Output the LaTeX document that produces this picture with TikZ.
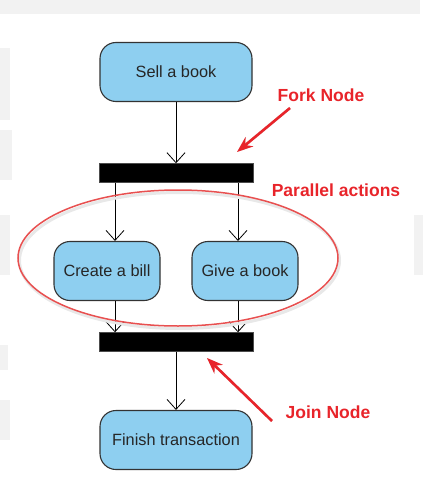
\documentclass[tikz,border=0pt]{standalone}
\usepackage{fontspec}
\setmainfont{Liberation Sans}
\usetikzlibrary{arrows.meta}
\definecolor{actfill}{HTML}{8ECFF0}
\definecolor{noteRed}{HTML}{E8242A}
\definecolor{ellRed}{HTML}{E85050}
\begin{document}
\begin{tikzpicture}[x=1pt,y=-1pt,
  action/.style={draw=black!80,line width=1.1pt,fill=actfill,rounded corners=16pt,
    minimum width=#1,minimum height=59pt,inner sep=0pt,font=\fontsize{16.3}{19}\selectfont,text=black!85},
  action/.default=152pt,
  bar/.style={fill=black,draw=black!70,minimum width=154pt,minimum height=19pt,inner sep=0pt},
  flow/.style={draw=black,line width=0.8pt,-{Straight Barb[length=10pt,width=18pt,line width=0.8pt]}},
  note/.style={text=noteRed,font=\bfseries\fontsize{17.5}{20}\selectfont},
  notearrow/.style={draw=noteRed,line width=2.6pt,-{Stealth[length=16pt,width=12pt]}}]
\useasboundingbox (0,0) rectangle (423,492);
% faint watermark shapes
\fill[black!5] (0,0) rectangle (420,14);
\fill[black!5] (0,48) rectangle (10,120);
\fill[black!5] (0,130) rectangle (12,180);
\fill[black!5] (0,215) rectangle (10,275);
\fill[black!5] (0,345) rectangle (8,370);
\fill[black!5] (0,400) rectangle (10,440);
\fill[black!5] (414,215) rectangle (423,275);
% nodes
\node[action] (sell) at (176,72) {Sell a book};
\node[bar] (fork) at (176,173) {};
\node[action=106pt] (bill) at (107,271) {Create a bill};
\node[action=106pt] (give) at (245,271) {Give a book};
\node[bar] (join) at (176,342) {};
\node[action] (finish) at (176,440) {Finish transaction};
% flows
\draw[flow] (sell) -- (fork);
\draw[flow] (fork.south -| 115,0) -- (bill.north -| 115,0);
\draw[flow] (fork.south -| 238,0) -- (give.north -| 238,0);
\draw[flow] (bill.south -| 115,0) -- (join.north -| 115,0);
\draw[flow] (give.south -| 238,0) -- (join.north -| 238,0);
\draw[flow] (join) -- (finish);
% ellipse
\draw[black!9,line width=3pt] (179.5,260.5) ellipse [x radius=160pt,y radius=68pt];
\draw[ellRed,line width=1.5pt] (178,258) ellipse [x radius=160pt,y radius=68pt];
% notes
\node[note] (forklbl) at (321,95) {Fork Node};
\node[note] (parlbl) at (336,190) {Parallel actions};
\node[note] (joinlbl) at (328,412) {Join Node};
\coordinate (forkstart) at (290,108);
\coordinate (forktip) at (237,152);
\coordinate (joinstart) at (272,421);
\coordinate (jointip) at (207,358);
\draw[notearrow,black!15,shift={(2,2)}] (forkstart) -- (forktip);
\draw[notearrow,black!15,shift={(2,2)}] (joinstart) -- (jointip);
\draw[notearrow] (forkstart) -- (forktip);
\draw[notearrow] (joinstart) -- (jointip);
\end{tikzpicture}
\end{document}
